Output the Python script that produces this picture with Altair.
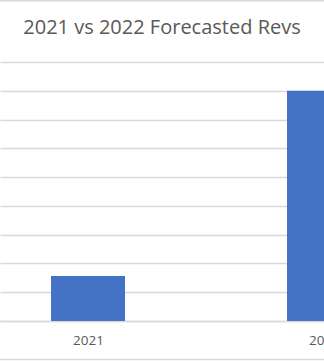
import altair as alt
import pandas as pd

years = [2021, 2022]
revenues = [1.56, 8.0]
grid_values = [0, 1, 2, 3, 4, 5, 6, 7, 8, 9]
title_text = "2021 vs 2022 Forecasted Revs"

df = pd.DataFrame({"year": years, "rev": revenues})

FONT = "Open Sans"
GRID = "#d9d9d9"
TEXT = "#595959"

x_enc = alt.X(
    "year:Q",
    scale=alt.Scale(domain=[2020.627, 2022], nice=False, zero=False, padding=0),
    axis=alt.Axis(
        values=years, format="d", title=None, labelFlush=False,
        ticks=False, domainColor=GRID, domainWidth=1.5,
        labelColor=TEXT, labelFontSize=13.5, labelFont=FONT, labelPadding=12,
        grid=False,
    ),
)
y_enc = alt.Y(
    "rev:Q",
    scale=alt.Scale(domain=[0, 9], nice=False),
    axis=alt.Axis(
        values=grid_values, labels=False, ticks=False, domain=False, title=None,
        grid=True, gridColor=GRID, gridWidth=1.5,
    ),
)

bars = alt.Chart(df).mark_bar(size=74, color="#4472C4").encode(x=x_enc, y=y_enc)

title_df = pd.DataFrame({"t": [title_text]})
title = alt.Chart(title_df).mark_text(
    font=FONT, fontSize=20, color=TEXT, align="center", baseline="middle"
).encode(text="t:N", x=alt.value(162), y=alt.value(-34))

frame = pd.DataFrame({"b": [0]})
border = alt.Chart(frame).mark_rule(color=GRID, strokeWidth=2).encode(
    x=alt.value(-10), x2=alt.value(340), y=alt.value(-61.5)
)
border2 = alt.Chart(frame).mark_rule(color=GRID, strokeWidth=1.5).encode(
    x=alt.value(-10), x2=alt.value(340), y=alt.value(297.5)
)

chart = alt.layer(bars, title, border, border2).properties(
    width=324,
    height=259,
    padding={"top": 62, "bottom": 40, "left": 0, "right": 0},
    autosize=alt.AutoSizeParams(type="none"),
    background="white",
).configure_view(strokeWidth=0, stroke="transparent").configure_axisY(domain=False)

chart.save("out.html", embed_options={"renderer": "svg", "actions": False})
